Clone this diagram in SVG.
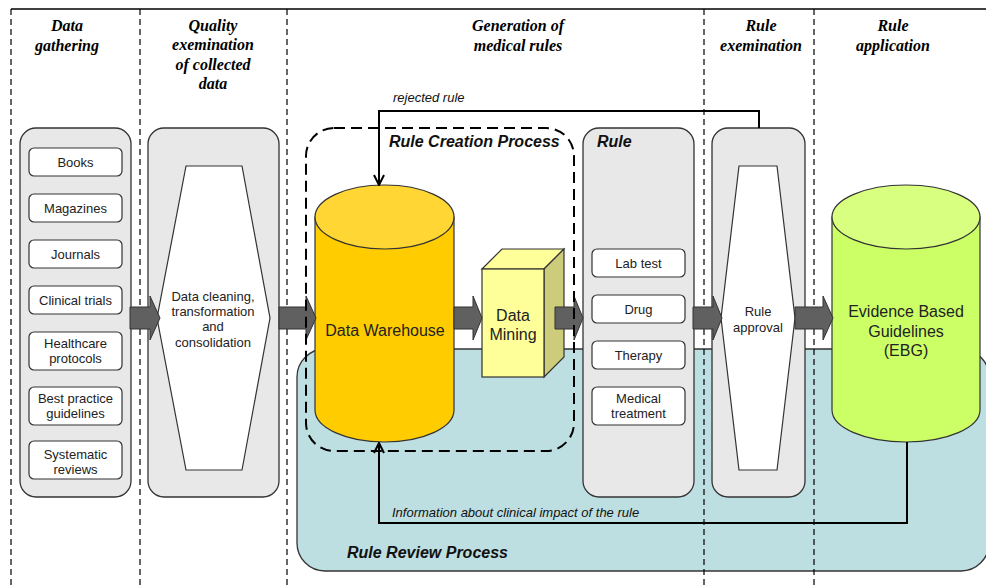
<svg xmlns="http://www.w3.org/2000/svg" width="986" height="585" viewBox="0 0 986 585">
<defs>
<style>
.hdr{font-family:"Liberation Serif","Times New Roman",serif;font-weight:bold;font-style:italic;font-size:16px;text-anchor:middle;fill:#000}
.sep{stroke:#000;stroke-width:1.2;stroke-dasharray:6,4;fill:none}
.panel{fill:#e8e8e8;stroke:#333;stroke-width:1.3}
.item{fill:#fff;stroke:#333;stroke-width:1.2}
.it{font-family:"Liberation Sans",Arial,sans-serif;font-size:13px;text-anchor:middle;fill:#222}
.big{font-family:"Liberation Sans",Arial,sans-serif;font-size:16px;text-anchor:middle;fill:#222}
.hex{fill:#fff;stroke:#333;stroke-width:1.2}
.arr{fill:#606060;stroke:#333;stroke-width:1}
.lbl{font-family:"Liberation Sans",Arial,sans-serif;font-weight:bold;font-style:italic;font-size:16px;fill:#111}
.note{font-family:"Liberation Sans",Arial,sans-serif;font-style:italic;font-size:13px;fill:#111}
.conn{fill:none;stroke:#000;stroke-width:2}
.cyl{stroke:#333;stroke-width:1.2}
</style>
<marker id="open" viewBox="0 0 12 12" refX="11" refY="6" markerWidth="12" markerHeight="12" markerUnits="userSpaceOnUse" orient="auto">
<path d="M1,1 L11,6 L1,11" fill="none" stroke="#000" stroke-width="2"/>
</marker>
</defs>

<line x1="11" y1="9" x2="986" y2="9" stroke="#000" stroke-width="1.5"/>

<g id="rule-review-process">
<rect x="297" y="349" width="692" height="222" rx="28" fill="#bddfe2" stroke="#333" stroke-width="1.3"/>
<text class="lbl" x="347" y="558">Rule Review Process</text>
</g>

<g id="separators">
<line class="sep" x1="11" y1="9" x2="11" y2="585"/>
<line class="sep" x1="140" y1="9" x2="140" y2="585"/>
<line class="sep" x1="287" y1="9" x2="287" y2="585"/>
<line class="sep" x1="704" y1="9" x2="704" y2="585"/>
<line class="sep" x1="814" y1="9" x2="814" y2="585"/>
</g>

<g id="headers">
<text class="hdr" x="67" y="31">Data</text>
<text class="hdr" x="67" y="51">gathering</text>
<text class="hdr" x="213" y="31">Quality</text>
<text class="hdr" x="213" y="50">exemination</text>
<text class="hdr" x="213" y="70">of collected</text>
<text class="hdr" x="213" y="89">data</text>
<text class="hdr" x="518" y="31">Generation of</text>
<text class="hdr" x="518" y="51">medical rules</text>
<text class="hdr" x="761" y="31">Rule</text>
<text class="hdr" x="761" y="51">exemination</text>
<text class="hdr" x="893" y="31">Rule</text>
<text class="hdr" x="893" y="51">application</text>
</g>

<g id="data-gathering">
<rect class="panel" x="20" y="128" width="111" height="369" rx="16"/>
<rect class="item" x="29" y="148" width="93" height="28" rx="5"/>
<text class="it" x="75.5" y="167">Books</text>
<rect class="item" x="29" y="194" width="93" height="28" rx="5"/>
<text class="it" x="75.5" y="213">Magazines</text>
<rect class="item" x="29" y="240" width="93" height="28" rx="5"/>
<text class="it" x="75.5" y="259">Journals</text>
<rect class="item" x="29" y="286" width="93" height="28" rx="5"/>
<text class="it" x="75.5" y="305">Clinical trials</text>
<rect class="item" x="29" y="332" width="93" height="38" rx="5"/>
<text class="it" x="75.5" y="348">Healthcare</text>
<text class="it" x="75.5" y="363">protocols</text>
<rect class="item" x="29" y="387" width="93" height="38" rx="5"/>
<text class="it" x="75.5" y="403">Best practice</text>
<text class="it" x="75.5" y="418">guidelines</text>
<rect class="item" x="29" y="441" width="93" height="38" rx="5"/>
<text class="it" x="75.5" y="459">Systematic</text>
<text class="it" x="75.5" y="474">reviews</text>
</g>

<g id="quality-examination">
<rect class="panel" x="148" y="128" width="131" height="369" rx="16"/>
<polygon class="hex" points="186,166 242,166 270,318 242,470 186,470 157,318"/>
<text class="it" x="213" y="301">Data cleaning,</text>
<text class="it" x="213" y="316">transformation</text>
<text class="it" x="213" y="331">and</text>
<text class="it" x="213" y="347">consolidation</text>
</g>

<g id="data-warehouse">
<path class="cyl" d="M315,217 V410 A69.5,32 0 0 0 454,410 V217 Z" fill="#ffcc00"/>
<ellipse class="cyl" cx="384.5" cy="217" rx="69.5" ry="32" fill="#ffd633"/>
<text class="big" x="385" y="336">Data Warehouse</text>
</g>

<g id="data-mining">
<polygon class="cyl" points="482,269 502,249 564,249 544,269" fill="#ffff99"/>
<polygon class="cyl" points="544,269 564,249 564,357 544,377" fill="#cccc7a"/>
<rect class="cyl" x="482" y="269" width="62" height="108" fill="#ffff99"/>
<text class="big" x="513" y="321">Data</text>
<text class="big" x="513" y="340">Mining</text>
</g>

<g id="rule">
<rect class="panel" x="583" y="128" width="111" height="369" rx="16"/>
<text class="lbl" x="597" y="147">Rule</text>
<rect class="item" x="592" y="249" width="93" height="28" rx="5"/>
<text class="it" x="638.5" y="268">Lab test</text>
<rect class="item" x="592" y="295" width="93" height="28" rx="5"/>
<text class="it" x="638.5" y="314">Drug</text>
<rect class="item" x="592" y="341" width="93" height="28" rx="5"/>
<text class="it" x="638.5" y="360">Therapy</text>
<rect class="item" x="592" y="387" width="93" height="38" rx="5"/>
<text class="it" x="638.5" y="403">Medical</text>
<text class="it" x="638.5" y="418">treatment</text>
</g>

<g id="rule-approval">
<rect class="panel" x="712" y="128" width="93" height="369" rx="16"/>
<polygon class="hex" points="739,166 777,166 795,318 777,470 739,470 721,318"/>
<text class="it" x="758" y="316">Rule</text>
<text class="it" x="758" y="332">approval</text>
</g>

<g id="ebg">
<path class="cyl" d="M832,217 V410 A74,32 0 0 0 980,410 V217 Z" fill="#ccff66"/>
<ellipse class="cyl" cx="906" cy="217" rx="74" ry="32" fill="#d9ff80"/>
<text class="big" x="906" y="317">Evidence Based</text>
<text class="big" x="906" y="337">Guidelines</text>
<text class="big" x="906" y="356">(EBG)</text>
</g>

<g id="connectors">
<path class="arr" d="M130,307 H150 V296 L160,318 L150,340 V329 H130 Z"/>
<path class="arr" d="M279,307 H306 V296 L316,318 L306,340 V329 H279 Z"/>
<path class="arr" d="M454,307 H473 V296 L482,318 L473,340 V329 H454 Z"/>
<path class="arr" d="M555,307 H574 V296 L583,318 L574,340 V329 H555 Z"/>
<path class="arr" d="M693,307 H713 V296 L722,318 L713,340 V329 H693 Z"/>
<path class="arr" d="M795,307 H823 V296 L833,318 L823,340 V329 H795 Z"/>
<path class="conn" d="M759,128 V111 H379 V185" marker-end="url(#open)"/>
<text class="note" x="393" y="102">rejected rule</text>
<path class="conn" d="M907,442 V523 H379 V443" marker-end="url(#open)"/>
<text class="note" x="392" y="517">Information about clinical impact of the rule</text>
</g>

<g id="rule-creation-process">
<rect x="306" y="128" width="268" height="323" rx="28" fill="none" stroke="#000" stroke-width="2" stroke-dasharray="11,6"/>
<text class="lbl" x="389" y="147">Rule Creation Process</text>
</g>
</svg>
